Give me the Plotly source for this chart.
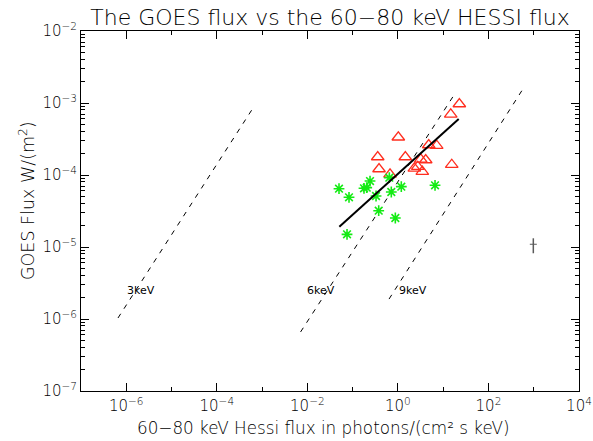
import plotly.graph_objects as go

# ---- data ----
# red triangles: log10 of x (HESSI flux) and y (GOES flux)
tri_logx = [1.357, 1.167, 0.009, 0.681, 0.857, -0.446, 0.164, 0.504, 0.614, 1.189, -0.417, 0.438, 0.363, 0.539, -0.174]
tri_logy = [-3.014, -3.157, -3.476, -3.583, -3.593, -3.750, -3.750, -3.782, -3.792, -3.857, -3.917, -3.885, -3.907, -3.954, -3.990]
# green asterisks
ast_logx = [-1.301, -1.080, -0.616, -0.749, -0.689, -0.190, -0.483, -0.146, 0.075, 0.820, -0.424, -0.057, -1.124]
ast_logy = [-4.190, -4.310, -4.084, -4.185, -4.176, -4.037, -4.292, -4.236, -4.162, -4.143, -4.496, -4.597, -4.824]
# fit line ends
fit_logx = [-1.294, 1.343]
fit_logy = [-4.718, -3.222]
# temperature lines (log10 ends)
temp_names = ["3keV", "6keV", "9keV"]
temp_logx = [[-6.183, -3.200], [-2.150, 1.240], [-0.196, 2.760]]
temp_logy = [[-5.986, -3.069], [-6.180, -2.889], [-5.723, -2.807]]
label_logx = [-5.675, -1.698, 0.334]
label_logy = [-5.611, -5.611, -5.611]
# typical error bar
err_x = [10 ** 2.991]
err_y = [10 ** -4.962]
err_plus = [10 ** -4.879 - 10 ** -4.962]
err_minus = [10 ** -4.962 - 10 ** -5.087]

x_tickvals = [1e-6, 1e-4, 1e-2, 1e0, 1e2, 1e4]
x_ticktext = ["10<sup>−6</sup>", "10<sup>−4</sup>", "10<sup>−2</sup>", "10<sup>0</sup>", "10<sup>2</sup>", "10<sup>4</sup>"]
x_minorvals = [1e-7, 1e-5, 1e-3, 1e-1, 1e1, 1e3]
y_tickvals = [1e-7, 1e-6, 1e-5, 1e-4, 1e-3, 1e-2]
y_ticktext = ["10<sup>−7</sup>", "10<sup>−6</sup>", "10<sup>−5</sup>", "10<sup>−4</sup>", "10<sup>−3</sup>", "10<sup>−2</sup>"]

FONT = "DejaVu Sans"
WT = 200
W, H = 593, 441
ML, MR, MT, MB = 81, 14, 31, 50
PW, PH = W - ML - MR, H - MT - MB

fig = go.Figure()

for lx, ly in zip(temp_logx, temp_logy):
    fig.add_trace(go.Scatter(x=[10 ** v for v in lx], y=[10 ** v for v in ly], mode="lines",
                             line=dict(color="black", width=1, dash="5px,6px"), showlegend=False))

fig.add_trace(go.Scatter(x=[10 ** v for v in tri_logx], y=[10 ** v for v in tri_logy], mode="markers",
                         marker=dict(symbol="triangle-up-open", size=11, color="rgb(255,45,30)",
                                     line=dict(width=1.3, color="rgb(255,45,30)")), showlegend=False))
fig.add_trace(go.Scatter(x=[10 ** v for v in ast_logx], y=[10 ** v for v in ast_logy], mode="markers",
                         marker=dict(symbol="asterisk-open", size=9, color="rgb(20,235,20)",
                                     line=dict(width=1.6, color="rgb(20,235,20)")), showlegend=False))
fig.add_trace(go.Scatter(x=[10 ** v for v in fit_logx], y=[10 ** v for v in fit_logy], mode="lines",
                         line=dict(color="black", width=2), showlegend=False))
fig.add_trace(go.Scatter(x=err_x, y=err_y, mode="markers",
                         marker=dict(symbol="line-ew-open", size=5, color="rgb(90,90,90)",
                                     line=dict(width=1, color="rgb(90,90,90)")),
                         error_y=dict(type="data", symmetric=False, array=err_plus, arrayminus=err_minus,
                                      color="rgb(90,90,90)", thickness=1.5, width=0),
                         showlegend=False))

for name, lx, ly in zip(temp_names, label_logx, label_logy):
    fig.add_annotation(x=lx, y=ly, xref="x", yref="y", text=name, showarrow=False,
                       xanchor="center", yanchor="middle",
                       font=dict(family=FONT, size=11, color="black"))

# axis titles placed in pixel terms relative to the plot frame
fig.add_annotation(x=(323 - ML) / PW, y=(H - MB - 428) / PH, xref="paper", yref="paper",
                   text="60−80 keV Hessi flux in photons/(cm² s keV)", showarrow=False,
                   xanchor="center", yanchor="middle",
                   font=dict(family=FONT, size=16.8, color="black", weight=WT))
fig.add_annotation(x=(27 - ML) / PW, y=(H - MB - 201) / PH, xref="paper", yref="paper",
                   text="GOES Flux W/(m<sup>2</sup>)", showarrow=False, textangle=-90,
                   xanchor="center", yanchor="middle",
                   font=dict(family=FONT, size=17.5, color="black", weight=WT))

axis_common = dict(showline=True, linecolor="black", linewidth=1, mirror="ticks",
                   ticks="inside", ticklen=8, tickcolor="black", showgrid=False, zeroline=False,
                   automargin=False,
                   tickfont=dict(family=FONT, size=15, color="black", weight=WT))

fig.update_xaxes(type="log", range=[-7, 4], tickvals=x_tickvals, ticktext=x_ticktext,
                 ticklabelstandoff=1,
                 minor=dict(tickvals=x_minorvals, ticks="inside", ticklen=4, tickcolor="black", showgrid=False),
                 **axis_common)
fig.update_yaxes(type="log", range=[-7, -2], tickvals=y_tickvals, ticktext=y_ticktext,
                 minor=dict(dtick="D1", ticks="inside", ticklen=4, tickcolor="black", showgrid=False),
                 **axis_common)

fig.update_layout(
    width=W, height=H,
    margin=dict(l=ML, r=MR, t=MT, b=MB),
    paper_bgcolor="white", plot_bgcolor="white",
    title=dict(text="The GOES flux vs the 60−80 keV HESSI flux", xref="paper", x=0.5,
               xanchor="center", yref="container", y=1 - 17 / H, yanchor="middle",
               font=dict(family=FONT, size=22, color="black", weight=WT)),
)

fig.write_html("out.html", config={"displayModeBar": False},
               post_script="document.body.style.margin='0';document.body.style.padding='0';")
